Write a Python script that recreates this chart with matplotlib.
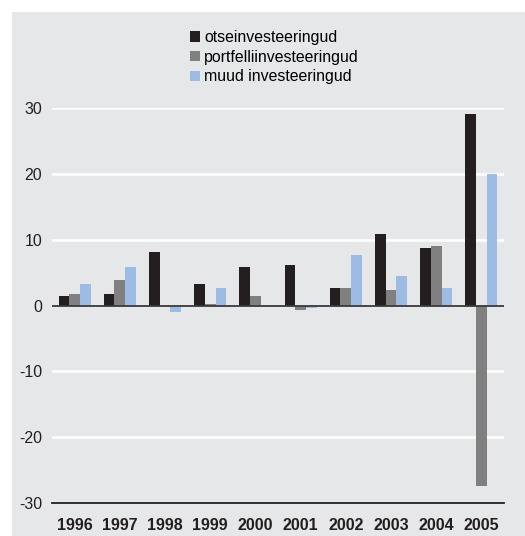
import matplotlib
matplotlib.use('Agg')
import matplotlib.pyplot as plt
import numpy as np
from matplotlib.patches import Rectangle

years = ['1996', '1997', '1998', '1999', '2000', '2001', '2002', '2003', '2004', '2005']
otse = [1.5, 1.8, 8.2, 3.3, 5.8, 6.1, 2.7, 10.9, 8.8, 29.1]
portfell = [1.8, 3.9, 0.0, 0.3, 1.5, -0.7, 2.7, 2.4, 9.1, -27.4]
muud = [3.3, 5.8, -1.0, 2.7, 0.0, -0.4, 7.6, 4.5, 2.7, 20.0]
labels = ['otseinvesteeringud', 'portfelliinvesteeringud', 'muud investeeringud']
colors = ['#231f20', '#808080', '#9dbbe3']
bg = '#e6e7e9'

plt.rcParams['font.family'] = ['Liberation Sans', 'DejaVu Sans']

W, H = 525, 536
fig = plt.figure(figsize=(W / 100, H / 100), dpi=100)
fig.patches.append(Rectangle((12 / W, 0), 1, 1 - 12 / H, transform=fig.transFigure,
                             facecolor=bg, edgecolor='none', zorder=-10))

ax = fig.add_axes([52 / W, 1 - 503 / H, (504 - 52) / W, (503 - 108) / H])
ax.set_facecolor(bg)

x = np.arange(len(years))
w = 0.235
series = [otse, portfell, muud]
for i, vals in enumerate(series):
    ax.bar(x + (i - 1) * w, vals, w, color=colors[i], label=labels[i], zorder=3)

ax.set_xlim(-0.5, len(years) - 0.5)
ax.set_ylim(-30, 30)
ax.set_yticks([-30, -20, -10, 0, 10, 20, 30])
ax.set_yticklabels(['-30', '-20', '-10', '0', '10', '20', '30'], fontsize=11.4, color='#231f20')
ax.set_xticks(x)
ax.set_xticklabels(years, fontsize=11.5, fontweight='bold', color='#231f20')
ax.tick_params(axis='both', length=0)
ax.tick_params(axis='y', pad=7)
ax.tick_params(axis='x', pad=11)

for v in [-20, -10, 10, 20, 30]:
    ax.axhline(v, color='white', lw=1.8, zorder=1)
ax.axhline(0, color='#3a3a3a', lw=1.3, zorder=4)

for s in ['top', 'right', 'left']:
    ax.spines[s].set_visible(False)
ax.spines['bottom'].set_color('#231f20')
ax.spines['bottom'].set_linewidth(1.3)

fig.legend(loc='upper left', bbox_to_anchor=(190 / W, 1 - 30 / H), frameon=False,
           fontsize=11.4, handlelength=0.65, handleheight=0.65, handletextpad=0.25,
           labelspacing=0.3, borderpad=0, borderaxespad=0)

fig.savefig('out.png', dpi=100)
